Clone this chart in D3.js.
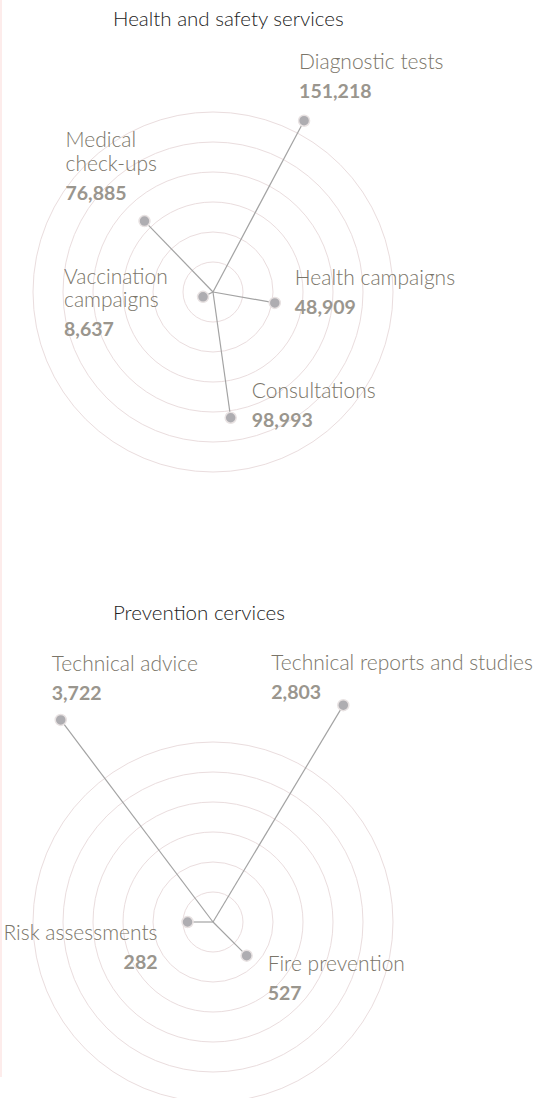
<!DOCTYPE html>
<html>
<head>
<meta charset="utf-8">
<script src="https://cdn.jsdelivr.net/npm/d3@7"></script>
<style>
  body { margin: 0; background: #fff; }
  svg { display: block; }
</style>
</head>
<body>
<div id="chart"></div>
<script>
// health and safety services
const healthCategories = ["Diagnostic tests", "Health campaigns", "Consultations", "Vaccination campaigns", "Medical check-ups"];
const healthValues = [151218, 48909, 98993, 8637, 76885];
const healthAngles = [28, 100, 172, 244, 316];

// prevention services
const preventionCategories = ["Technical reports and studies", "Fire prevention", "Risk assessments", "Technical advice"];
const preventionValues = [2803, 527, 282, 3722];
const preventionAngles = [31, 135, 270, 323];

const ringSteps = [1, 2, 3, 4, 5, 6];

const width = 533, height = 1098;
const fmt = d3.format(",");
const font = "Lato, 'Open Sans', sans-serif";

const svg = d3.select("#chart")
  .append("svg")
  .attr("width", width)
  .attr("height", height);

// faint page edge
svg.append("rect")
  .attr("x", 0).attr("y", 0)
  .attr("width", 2).attr("height", 1077)
  .attr("fill", "#fdeceb");

// label placement, relative to each dot
const healthLabels = [
  { lines: ["Diagnostic tests"], dx: -5, dy: -52, anchor: "start" },
  { lines: ["Health campaigns"], dx: 20, dy: -18, anchor: "start" },
  { lines: ["Consultations"], dx: 21, dy: -20, anchor: "start" },
  { lines: ["Vaccination", "campaigns"], dx: -139, dy: -13, anchor: "start" },
  { lines: ["Medical", "check-ups"], dx: -79, dy: -74, anchor: "start" }
];
const preventionLabels = [
  { lines: ["Technical reports and studies"], dx: -72, dy: -35, anchor: "start" },
  { lines: ["Fire prevention"], dx: 21, dy: 15, anchor: "start" },
  { lines: ["Risk assessments"], dx: -30, dy: 18, anchor: "end" },
  { lines: ["Technical advice"], dx: -9, dy: -49, anchor: "start" }
];

function drawRadial(opts) {
  const g = svg.append("g")
    .attr("transform", `translate(${opts.cx}, ${opts.cy})`);

  svg.append("text")
    .attr("x", opts.titleX)
    .attr("y", opts.titleY)
    .attr("font-family", font)
    .attr("font-size", 20.5)
    .attr("font-weight", 300)
    .attr("fill", "#222")
    .text(opts.title);

  const ring = d3.scaleLinear().domain([0, 6]).range([0, 180]);

  g.selectAll("circle.ring")
    .data(ringSteps)
    .join("circle")
    .attr("class", "ring")
    .attr("r", (d) => ring(d))
    .attr("fill", "none")
    .attr("stroke", "#eaddde")
    .attr("stroke-width", 1);

  const r = d3.scaleLinear()
    .domain([0, opts.maxValue])
    .range([0, opts.maxRadius])
    .clamp(true);

  const data = opts.categories.map((c, i) => {
    const a = (opts.angles[i] * Math.PI) / 180;
    const len = r(opts.values[i]);
    return {
      name: c,
      value: opts.values[i],
      x: Math.sin(a) * len,
      y: -Math.cos(a) * len,
      label: opts.labels[i]
    };
  });

  g.selectAll("line.spoke")
    .data(data)
    .join("line")
    .attr("class", "spoke")
    .attr("x1", 0).attr("y1", 0)
    .attr("x2", (d) => d.x).attr("y2", (d) => d.y)
    .attr("stroke", "#a3a3a3")
    .attr("stroke-width", 1.2);

  g.selectAll("circle.dot")
    .data(data)
    .join("circle")
    .attr("class", "dot")
    .attr("cx", (d) => d.x)
    .attr("cy", (d) => d.y)
    .attr("r", 5.5)
    .attr("fill", "#aeadb1")
    .attr("stroke", "#e8e2e2")
    .attr("stroke-width", 1.5);

  const labels = g.selectAll("g.label")
    .data(data)
    .join("g")
    .attr("class", "label")
    .attr("transform", (d) => `translate(${d.x + d.label.dx}, ${d.y + d.label.dy})`)
    .attr("text-anchor", (d) => d.label.anchor)
    .attr("font-family", font);

  labels.each(function (d) {
    const sel = d3.select(this);
    d.label.lines.forEach((t, i) => {
      sel.append("text")
        .attr("y", i * 23.5)
        .attr("font-size", 21)
        .attr("font-weight", 300)
        .attr("fill", "#7a7569")
        .text(t);
    });
    sel.append("text")
      .attr("y", (d.label.lines.length - 1) * 23.5 + 29)
      .attr("font-size", 19.5)
      .attr("font-weight", "bold")
      .attr("fill", "#9a968e")
      .text(fmt(d.value));
  });
}

drawRadial({
  title: "Health and safety services",
  titleX: 113, titleY: 26,
  cx: 213, cy: 292,
  categories: healthCategories,
  values: healthValues,
  angles: healthAngles,
  labels: healthLabels,
  maxValue: d3.max(healthValues),
  maxRadius: 194
});

drawRadial({
  title: "Prevention cervices",
  titleX: 113, titleY: 620,
  cx: 213, cy: 922,
  categories: preventionCategories,
  values: preventionValues,
  angles: preventionAngles,
  labels: preventionLabels,
  maxValue: preventionValues[0],
  maxRadius: 253
});
</script>
</body>
</html>
